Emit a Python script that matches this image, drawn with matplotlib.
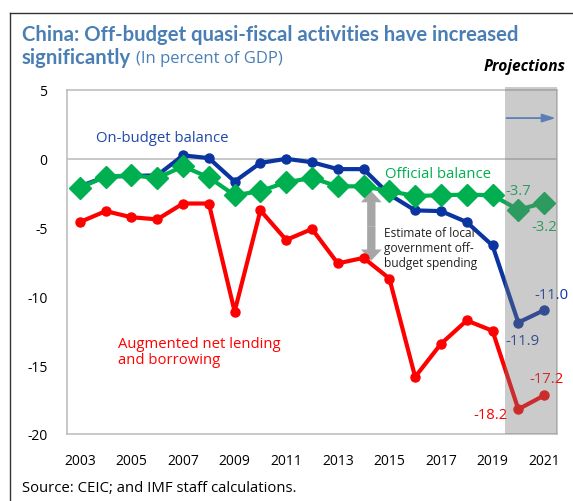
import matplotlib
matplotlib.use("Agg")
import matplotlib.pyplot as plt
from matplotlib.patches import Rectangle
from matplotlib.lines import Line2D

plt.rcParams['font.family'] = ['Open Sans', 'DejaVu Sans']

years = list(range(2003, 2022))
on_budget = [-2.0, -1.3, -1.25, -1.2, 0.25, 0.05, -1.65, -0.3, 0.0, -0.25, -0.75, -0.75,
             -2.6, -3.75, -3.8, -4.6, -6.3, -11.9, -11.0]
official = [-2.1, -1.3, -1.2, -1.4, -0.55, -1.35, -2.65, -2.35, -1.7, -1.4, -2.0, -2.0,
            -2.35, -2.7, -2.65, -2.6, -2.65, -3.7, -3.2]
augmented = [-4.6, -3.8, -4.25, -4.4, -3.25, -3.25, -11.1, -3.75, -5.9, -5.1, -7.6, -7.2,
             -8.7, -15.85, -13.45, -11.75, -12.5, -18.2, -17.2]
xtick_labels = [str(y) for y in years[::2]]
yticks = [5, 0, -5, -10, -15, -20]

BLUE = '#0a34a0'
GREEN = '#00b050'
RED = '#ff0000'
TITLE = '#4a7fb5'

W, H = 573, 502
fig = plt.figure(figsize=(W / 100, H / 100), dpi=100)

ax = fig.add_axes([67 / W, 1 - 435 / H, (557 - 67) / W, (435 - 91) / H])
x = list(range(len(years)))

ax.plot(x, augmented, color=RED, lw=3.0, marker='o', ms=6.5, zorder=3, solid_joinstyle='round')
ax.plot(x, on_budget, color=BLUE, lw=3.0, marker='o', ms=6.5, zorder=4, solid_joinstyle='round')
ax.plot(x, official, color=GREEN, lw=3.0, marker='D', ms=11, zorder=5, solid_joinstyle='round')

ax.axhline(0, color='#bfbfbf', lw=1.2, zorder=1)
ax.set_xlim(-0.5, len(years) - 0.5)
ax.set_ylim(-20, 5)
ax.set_yticks(yticks)
ax.set_yticklabels([str(v) for v in yticks], fontsize=10)
ax.set_xticks(x[::2])
ax.set_xticklabels(xtick_labels, fontsize=10)
ax.tick_params(length=0)
ax.tick_params(axis='y', pad=14)
ax.tick_params(axis='x', pad=14)
for s in ax.spines.values():
    s.set_color('#bfbfbf')
    s.set_linewidth(1.2)

# labels
ax.text(0.62, 1.57, 'On-budget balance', color='#1f48a8', fontsize=10.7, va='center', ha='left')
ax.text(11.85, -1.05, 'Official balance', color=GREEN, fontsize=10.7, va='center', ha='left')
ax.text(1.47, -14.0, 'Augmented net lending\nand borrowing', color=RED, fontsize=10.7,
        va='center', ha='left', linespacing=1.15)
ax.text(11.8, -6.45, 'Estimate of local\ngovernment off-\nbudget spending', color='#222222',
        fontsize=8.6, va='center', ha='left', linespacing=1.2)

# double arrow
mid = -4.9
for yy in (official[11] - 0.35, -7.4):
    ax.annotate('', xy=(11.3, yy), xytext=(11.3, mid),
                arrowprops=dict(arrowstyle='simple,head_width=1.5,head_length=0.8,tail_width=0.6',
                                color='#a6a6a6', lw=0, shrinkA=0, shrinkB=0), zorder=2)

# value labels
ax.annotate('-3.7', (17, official[17]), xytext=(0, 14), textcoords='offset points',
            color=GREEN, fontsize=10.7, ha='center', va='center', zorder=6)
ax.annotate('-3.2', (18, official[18]), xytext=(0, -17), textcoords='offset points',
            color=GREEN, fontsize=10.7, ha='center', va='center', zorder=6)
ax.annotate('-11.0', (18, on_budget[18]), xytext=(5, 11), textcoords='offset points',
            color=BLUE, fontsize=10.7, ha='center', va='center', zorder=6, annotation_clip=False)
ax.annotate('-11.9', (17, on_budget[17]), xytext=(3, -13), textcoords='offset points',
            color=BLUE, fontsize=10.7, ha='center', va='center', zorder=6)
ax.annotate('-18.2', (17, augmented[17]), xytext=(-20, -4), textcoords='offset points',
            color=RED, fontsize=10.7, ha='center', va='center', zorder=6)
ax.annotate('-17.2', (18, augmented[18]), xytext=(2, 12), textcoords='offset points',
            color=RED, fontsize=10.7, ha='center', va='center', zorder=6, annotation_clip=False)

# projection shading overlay
ax.add_patch(Rectangle((16.5, -20), 2.0, 25.2, facecolor=(0.47, 0.47, 0.47), alpha=0.38,
                       lw=0, zorder=10, clip_on=False))
ax.annotate('', xy=(18.45, 2.96), xytext=(16.55, 2.96),
            arrowprops=dict(arrowstyle='-|>,head_width=0.25,head_length=0.8', color='#5b7fb5',
                            lw=1.3, shrinkA=0, shrinkB=0), zorder=11)

# titles
TFONT = ['Lato', 'DejaVu Sans']
t1 = fig.text(22 / W, 1 - 35 / H, 'China: Off-budget quasi-fiscal activities have increased',
              color=TITLE, fontsize=13, fontweight='bold', va='center', ha='left', family=TFONT)
fig.canvas.draw()
r = fig.canvas.get_renderer()
wpx = t1.get_window_extent(r).width
t1.set_fontsize(13 * (517 - 22) / wpx)
t2 = fig.text(22 / W, 1 - 58 / H, 'significantly', color=TITLE, fontsize=t1.get_fontsize(),
              fontweight='bold', va='center', ha='left', family=TFONT)
fig.canvas.draw()
bb = t2.get_window_extent(r)
t3 = fig.text((bb.x1 + 5) / W, 1 - 59 / H, '(In percent of GDP)', color=TITLE, fontsize=11,
              va='center', ha='left')
fig.canvas.draw()
w3 = t3.get_window_extent(r).width
t3.set_fontsize(11 * 147 / w3)
fig.text(566 / W, 1 - 67 / H, 'Projections', color='black', fontsize=11.2, fontweight='bold',
         fontstyle='italic', va='center', ha='right')
fig.text(22 / W, 1 - 489 / H, 'Source: CEIC; and IMF staff calculations.', color='black',
         fontsize=10.7, va='center', ha='left')

# outer frame
fig.add_artist(Line2D([10 / W, 1.0], [1 - 14 / H, 1 - 14 / H], color='#333333', lw=1.0,
                      transform=fig.transFigure))
fig.add_artist(Line2D([10 / W, 10 / W], [1 - 14 / H, 0.0], color='#333333', lw=1.0,
                      transform=fig.transFigure))

fig.savefig('out.png', dpi=100)
